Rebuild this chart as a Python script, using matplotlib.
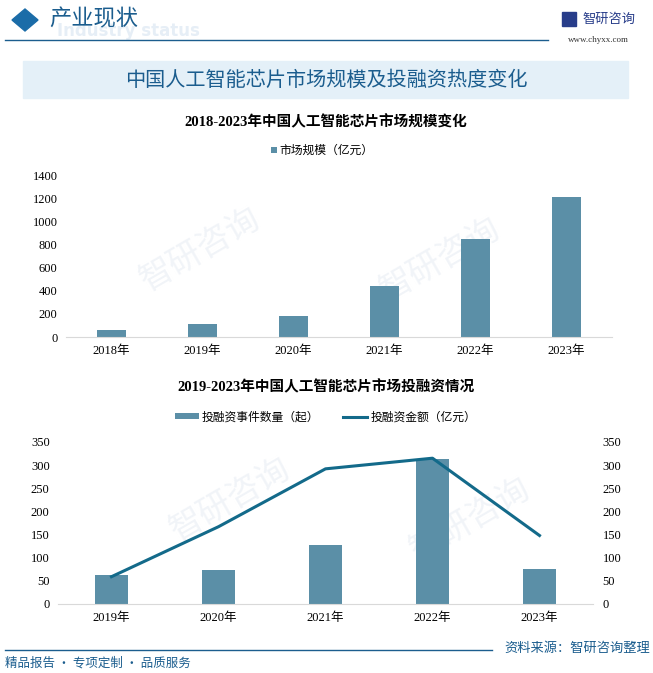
"""China AI chip market size and investment chart."""

import matplotlib

matplotlib.use("Agg")
from matplotlib import pyplot as plt
from matplotlib.patches import Rectangle, Polygon
from matplotlib.lines import Line2D

plt.rcParams["font.family"] = ["Noto Sans CJK SC", "DejaVu Sans"]

# data
years_size = ["2018年", "2019年", "2020年", "2021年", "2022年", "2023年"]
market_size = [62, 115, 184, 440, 850, 1206]

years_inv = ["2019年", "2020年", "2021年", "2022年", "2023年"]
inv_events = [63, 74, 128, 313, 76]
inv_amount = [59, 167, 292, 315, 148]

size_ticks = [0, 200, 400, 600, 800, 1000, 1200, 1400]
inv_ticks = [0, 50, 100, 150, 200, 250, 300, 350]

BAR = "#5b8fa7"
LINE = "#136a8a"
TITLE = "#1b5d8e"
NUMFONT = ["Liberation Serif", "Noto Sans CJK SC"]

fig = plt.figure(figsize=(6.53, 6.73), dpi=100)
W, H = 653, 673


def fx(x):
    return x / W


def fy(y):
    return 1 - y / H


# faint watermarks, kept clear of the labels
for (x, y) in [(200, 250), (440, 260), (230, 500), (470, 520)]:
    fig.text(fx(x), fy(y), "智研咨询", fontsize=24, color="#f1f4f8", rotation=30,
             ha="center", va="center", zorder=-1)

# header
fig.patches.append(Polygon([[fx(12), fy(20)], [fx(25), fy(9)], [fx(38), fy(20)], [fx(25), fy(31)]],
                           closed=True, transform=fig.transFigure, color="#1b6ca8", zorder=2))
fig.text(fx(128), fy(31), "Industry status", fontsize=12, color="#e6eef6", weight="bold",
         ha="center", va="center", family="DejaVu Sans", zorder=1)
fig.text(fx(49), fy(19), "产业现状", fontsize=16, color="#1b5d8e", va="center", zorder=2)
fig.lines.append(Line2D([fx(5), fx(548)], [fy(40), fy(40)], transform=fig.transFigure,
                        color="#1b5d8e", lw=1))
fig.patches.append(Rectangle((fx(562), fy(26)), fx(14), 14 / H, transform=fig.transFigure,
                             color="#283d8a"))
fig.text(fx(582), fy(19), "智研咨询", fontsize=9.5, color="#283d8a", va="center")
fig.text(fx(598), fy(40), "www.chyxx.com", fontsize=6.5, color="#333333", ha="center",
         va="center", family="Liberation Serif")

# title banner
fig.patches.append(Rectangle((fx(23), fy(98)), fx(605), 37 / H, transform=fig.transFigure,
                             color="#e4f0f8", zorder=1))
fig.text(fx(326), fy(80), "中国人工智能芯片市场规模及投融资热度变化", fontsize=14.5,
         color=TITLE, ha="center", va="center", zorder=2)

# top chart
fig.text(fx(326), fy(122), "2018-2023年中国人工智能芯片市场规模变化", fontsize=10.5,
         weight="bold", ha="center", va="center", family=NUMFONT)
ax1 = fig.add_axes([fx(66), fy(337), fx(546), 162 / H])
ax1.bar(range(len(years_size)), market_size, width=0.32, color=BAR, label="市场规模（亿元）")
ax1.set_xlim(-0.5, len(years_size) - 0.5)
ax1.set_ylim(0, 1400)
ax1.set_yticks(size_ticks)
ax1.set_xticks(range(len(years_size)))
ax1.set_xticklabels(years_size)
ax1.legend(loc="center", bbox_to_anchor=(0.47, 1.15), frameon=False, fontsize=8.5,
           handlelength=0.5, handleheight=0.5, handletextpad=0.2)

# bottom chart
fig.text(fx(326), fy(387), "2019-2023年中国人工智能芯片市场投融资情况", fontsize=10.5,
         weight="bold", ha="center", va="center", family=NUMFONT)
ax2 = fig.add_axes([fx(58), fy(604), fx(535), 162 / H])
ax3 = ax2.twinx()
ax2.bar(range(len(years_inv)), inv_events, width=0.31, color=BAR, label="投融资事件数量（起）")
ax3.plot(range(len(years_inv)), inv_amount, color=LINE, lw=2.2, label="投融资金额（亿元）")
ax2.set_xlim(-0.5, len(years_inv) - 0.5)
for a in (ax2, ax3):
    a.set_ylim(0, 350)
    a.set_yticks(inv_ticks)
ax2.set_xticks(range(len(years_inv)))
ax2.set_xticklabels(years_inv)
h1, l1 = ax2.get_legend_handles_labels()
h2, l2 = ax3.get_legend_handles_labels()
ax3.legend(h1 + h2, l1 + l2, loc="center", bbox_to_anchor=(0.5, 1.155), ncol=2,
           frameon=False, fontsize=8.5, handlelength=2.0, handleheight=0.4,
           handletextpad=0.3, columnspacing=2.0)

for a in (ax1, ax2, ax3):
    for s in a.spines.values():
        s.set_visible(False)
    a.tick_params(length=0, labelsize=9, pad=6)
    a.patch.set_alpha(0)
    for lab in a.get_xticklabels() + a.get_yticklabels():
        lab.set_family(NUMFONT)
for a in (ax1, ax2):
    a.spines["bottom"].set_visible(True)
    a.spines["bottom"].set_color("#d9d9d9")
ax3.tick_params(pad=7)

# footer
fig.lines.append(Line2D([fx(5), fx(492)], [fy(650), fy(650)], transform=fig.transFigure,
                        color="#1b5d8e", lw=1))
fig.text(fx(650), fy(648), "资料来源：智研咨询整理", fontsize=9.5, color="#1b5d8e",
         ha="right", va="center")
fig.text(fx(5), fy(663), "精品报告 · 专项定制 · 品质服务", fontsize=9, color="#1b5d8e",
         va="center")

fig.savefig("out.png", dpi=100)
